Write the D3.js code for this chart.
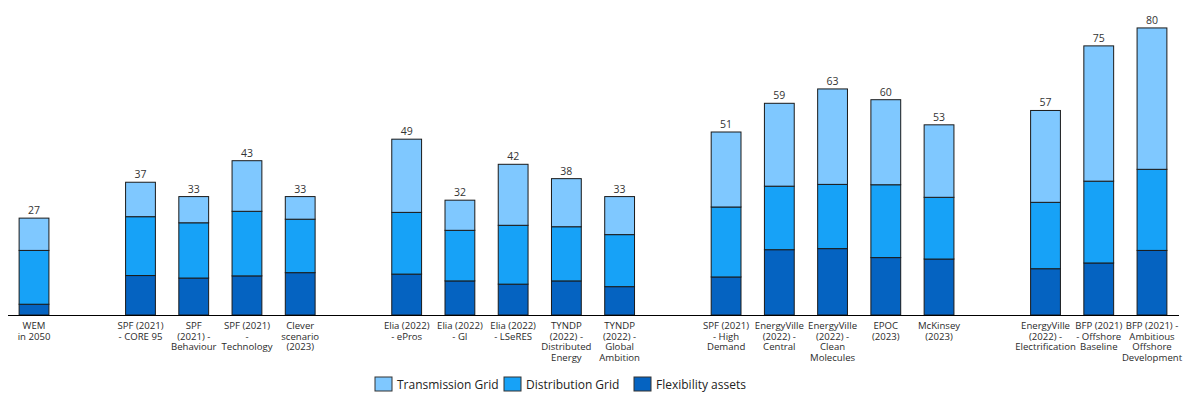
<!DOCTYPE html>
<html lang="en">
<head>
    <meta charset="UTF-8">
    <title>Grid investments</title>
    <script src="https://cdnjs.cloudflare.com/ajax/libs/d3/7.8.5/d3.min.js"></script>
    <style>
        body { margin: 0; background: #fff; }
        text { font-family: "Open Sans", "Noto Sans", sans-serif; }
    </style>
</head>
<body>
    <svg width="1194" height="398"></svg>
    <script>
        "use strict";

        // label lines per slot, empty slots are spacers between groups
        const labels = [
            ["WEM", "in 2050"],
            [],
            ["SPF (2021)", "- CORE 95"],
            ["SPF", "(2021) -", "Behaviour"],
            ["SPF (2021)", "-", "Technology"],
            ["Clever", "scenario", "(2023)"],
            [],
            ["Elia (2022)", "- ePros"],
            ["Elia (2022)", "- GI"],
            ["Elia (2022)", "- LSeRES"],
            ["TYNDP", "(2022) -", "Distributed", "Energy"],
            ["TYNDP", "(2022) -", "Global", "Ambition"],
            [],
            ["SPF (2021)", "- High", "Demand"],
            ["EnergyVille", "(2022) -", "Central"],
            ["EnergyVille", "(2022) -", "Clean", "Molecules"],
            ["EPOC", "(2023)"],
            ["McKinsey", "(2023)"],
            [],
            ["EnergyVille", "(2022) -", "Electrification"],
            ["BFP (2021)", "- Offshore", "Baseline"],
            ["BFP (2021) -", "Ambitious", "Offshore", "Development"]
        ];

        const flexibility = [3, null, 11, 10.3, 10.9, 11.8, null, 11.4, 9.5, 8.6, 9.5, 7.9, null, 10.6, 18.2, 18.5, 16.0, 15.6, null, 12.9, 14.5, 18.0];
        const distribution = [15, null, 16.4, 15.4, 18.0, 14.9, null, 17.2, 14.1, 16.4, 15.1, 14.5, null, 19.5, 17.7, 17.9, 20.3, 17.2, null, 18.5, 22.8, 22.6];
        const transmission = [9, null, 9.6, 7.3, 14.1, 6.3, null, 20.4, 8.4, 17.0, 13.4, 10.6, null, 20.9, 23.1, 26.6, 23.7, 20.2, null, 25.6, 37.7, 39.4];

        const seriesNames = ["Flexibility assets", "Distribution Grid", "Transmission Grid"];
        const colors = ["#0563C1", "#17A2F7", "#7FC8FF"];

        const svg = d3.select("svg");
        const baseY = 315;

        const rows = labels.map((l, i) => ({
            i: i,
            lines: l,
            flex: flexibility[i],
            dist: distribution[i],
            trans: transmission[i]
        }));
        const filled = rows.filter(d => d.flex != null);

        const x = d3.scaleBand()
            .domain(rows.map(d => d.i))
            .range([7.4, 1178.6])
            .paddingInner(0.44)
            .paddingOuter(0.22);

        const y = d3.scaleLinear().domain([0, 85]).range([baseY, 10]);

        const stack = d3.stack().keys(["flex", "dist", "trans"]);
        const stacked = stack(filled);

        svg.append("g")
            .selectAll("g")
            .data(stacked)
            .join("g")
            .attr("fill", (d, k) => colors[k])
            .selectAll("rect")
            .data(d => d)
            .join("rect")
            .attr("x", d => x(d.data.i))
            .attr("width", x.bandwidth())
            .attr("y", d => y(d[1]))
            .attr("height", d => y(d[0]) - y(d[1]))
            .attr("stroke", "#1a1a1a")
            .attr("stroke-width", 1);

        // totals above bars
        svg.append("g")
            .selectAll("text")
            .data(filled)
            .join("text")
            .attr("x", d => x(d.i) + x.bandwidth() / 2)
            .attr("y", d => y(d.flex + d.dist + d.trans) - 4)
            .attr("text-anchor", "middle")
            .attr("font-size", 10.5)
            .attr("fill", "#333")
            .text(d => Math.round(d.flex + d.dist + d.trans));

        // category axis
        const xAxis = svg.append("g").attr("transform", `translate(0,${baseY})`)
            .call(d3.axisBottom(x).tickSize(0).tickFormat(""));
        xAxis.select(".domain").attr("stroke", "#000").attr("d", "M8,0.5H1179");

        svg.append("g")
            .selectAll("text")
            .data(rows)
            .join("text")
            .attr("text-anchor", "middle")
            .attr("font-size", 9.6)
            .attr("fill", "#2b2b2b")
            .attr("transform", d => `translate(${x(d.i) + x.bandwidth() / 2},${baseY + 14})`)
            .selectAll("tspan")
            .data(d => d.lines)
            .join("tspan")
            .attr("x", 0)
            .attr("dy", (d, j) => j === 0 ? 0 : 10.6)
            .text(d => d);

        // legend
        const legendItems = [
            { name: seriesNames[2], color: colors[2], x: 375 },
            { name: seriesNames[1], color: colors[1], x: 504 },
            { name: seriesNames[0], color: colors[0], x: 634 }
        ];
        const legend = svg.append("g")
            .selectAll("g")
            .data(legendItems)
            .join("g")
            .attr("transform", d => `translate(${d.x},377)`);
        legend.append("rect")
            .attr("width", 17)
            .attr("height", 14)
            .attr("fill", d => d.color)
            .attr("stroke", "#333");
        legend.append("text")
            .attr("x", 22)
            .attr("y", 11.5)
            .attr("font-size", 12)
            .attr("fill", "#222")
            .text(d => d.name);
    </script>
</body>
</html>
